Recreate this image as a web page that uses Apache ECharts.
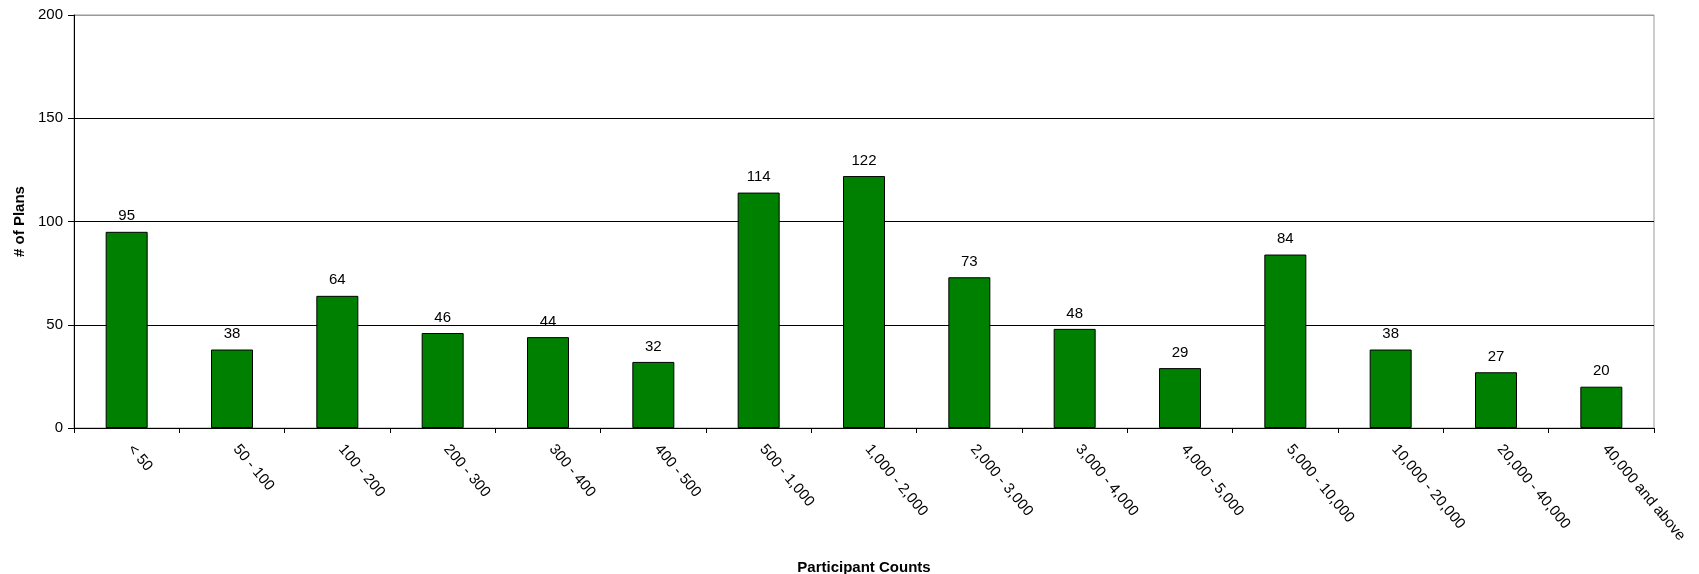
<!DOCTYPE html>
<html>
<head>
<meta charset="utf-8">
<script src="https://cdn.jsdelivr.net/npm/echarts@6/dist/echarts.min.js"></script>
<style>
  html, body { margin: 0; padding: 0; background: #fff; }
  #chart { width: 1699px; height: 574px; }
</style>
</head>
<body>
<div id="chart"></div>
<script>
// Plan counts by participant-count bracket
const categories = [
  '< 50', '50 - 100', '100 - 200', '200 - 300', '300 - 400', '400 - 500',
  '500 - 1,000', '1,000 - 2,000', '2,000 - 3,000', '3,000 - 4,000',
  '4,000 - 5,000', '5,000 - 10,000', '10,000 - 20,000', '20,000 - 40,000',
  '40,000 and above'
];
const planCounts = [95, 38, 64, 46, 44, 32, 114, 122, 73, 48, 29, 84, 38, 27, 20];
const yTicks = { min: 0, max: 200, interval: 50 };

const font = 'Liberation Sans, Arial, sans-serif';
const chart = echarts.init(document.getElementById('chart'), null, { renderer: 'canvas' });

chart.setOption({
  animation: false,
  backgroundColor: '#ffffff',
  grid: {
    left: 74, right: 45, top: 15, bottom: 146,
    containLabel: false,
    outerBoundsMode: 'none',
    show: true, borderColor: '#999999', borderWidth: 1, backgroundColor: 'transparent'
  },
  xAxis: {
    type: 'category',
    data: categories,
    name: 'Participant Counts',
    nameLocation: 'middle',
    nameGap: 132,
    nameTextStyle: { fontFamily: font, fontSize: 15, fontWeight: 'bold', color: '#000' },
    axisLine: { lineStyle: { color: '#000', width: 1 } },
    axisTick: { show: true, alignWithLabel: false, length: 5, lineStyle: { color: '#000' } },
    axisLabel: {
      rotate: -50, interval: 0, margin: 14, padding: [0, 0, 0, 6],
      fontFamily: font, fontSize: 15, color: '#000'
    },
    splitLine: { show: false }
  },
  yAxis: {
    type: 'value',
    min: yTicks.min, max: yTicks.max, interval: yTicks.interval,
    name: '# of Plans',
    nameLocation: 'middle',
    nameGap: 47,
    nameRotate: 90,
    nameTextStyle: { fontFamily: font, fontSize: 15, fontWeight: 'bold', color: '#000' },
    axisLine: { show: true, lineStyle: { color: '#000', width: 1 } },
    axisTick: { show: true, length: 6, lineStyle: { color: '#000' } },
    axisLabel: { margin: 11, fontFamily: font, fontSize: 15, color: '#000' },
    splitLine: { show: true, lineStyle: { color: ['#000', '#000', '#000', '#000', '#999'], width: 1 } }
  },
  series: [{
    type: 'bar',
    data: planCounts,
    barWidth: 42,
    itemStyle: { color: '#008000', borderColor: '#000', borderWidth: 1 },
    label: {
      show: true, position: 'top', distance: 8,
      fontFamily: font, fontSize: 15, color: '#000'
    }
  }]
});
</script>
</body>
</html>
